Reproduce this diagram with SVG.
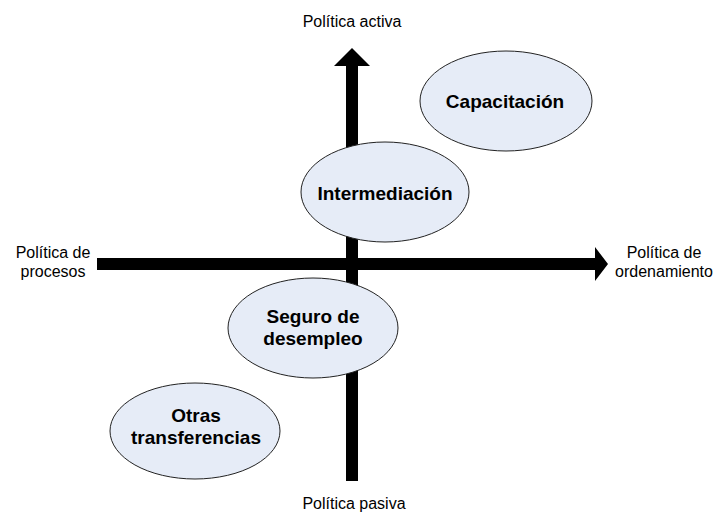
<svg xmlns="http://www.w3.org/2000/svg" width="717" height="512" viewBox="0 0 717 512">
<style>
.lbl{font-family:"Liberation Sans",Arial,sans-serif;font-size:16px;fill:#000;text-anchor:middle}
.nd{fill:#E6ECF7;stroke:#222;stroke-width:1}
.nt{font-family:"Liberation Sans",Arial,sans-serif;font-size:19px;font-weight:bold;fill:#000;text-anchor:middle}
.ax{fill:#000;stroke:none}
</style>
<rect width="717" height="512" fill="#fff"/>
<g id="connectors">
<polygon class="ax" points="346,481 346,66 334,66 352,48 370,66 358,66 358,481"/>
<polygon class="ax" points="97,258 595,258 595,247 608,264 595,281 595,270 97,270"/>
</g>
<g id="labels">
<text class="lbl" x="352" y="27">Política activa</text>
<text class="lbl" x="354" y="509">Política pasiva</text>
<text class="lbl" x="53" y="258">Política de</text>
<text class="lbl" x="53" y="277">procesos</text>
<text class="lbl" x="664" y="258">Política de</text>
<text class="lbl" x="664" y="277">ordenamiento</text>
</g>
<g id="capacitacion">
<ellipse class="nd" cx="506" cy="101" rx="86" ry="50"/>
<text class="nt" x="505" y="108">Capacitación</text>
</g>
<g id="intermediacion">
<ellipse class="nd" cx="385" cy="192" rx="84" ry="50"/>
<text class="nt" x="385" y="200">Intermediación</text>
</g>
<g id="seguro">
<ellipse class="nd" cx="313" cy="328" rx="85" ry="50"/>
<text class="nt" x="313" y="323">Seguro de</text>
<text class="nt" x="313" y="345">desempleo</text>
</g>
<g id="otras">
<ellipse class="nd" cx="195" cy="431" rx="85" ry="48"/>
<text class="nt" x="196" y="422">Otras</text>
<text class="nt" x="196" y="444">transferencias</text>
</g>
</svg>
